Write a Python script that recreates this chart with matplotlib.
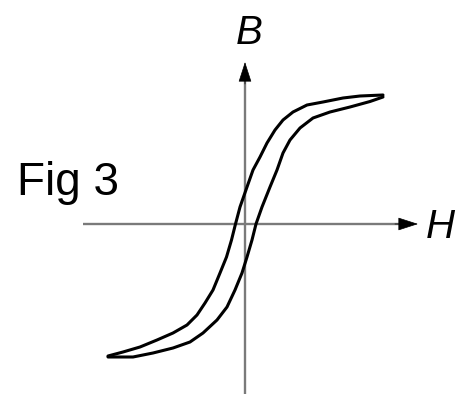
import matplotlib
matplotlib.use("Agg")
import matplotlib.pyplot as plt

# Hysteresis loop data (H, B) in arbitrary units, origin at axes crossing
H_down = [1.38, 1.15, 0.98, 0.78, 0.62, 0.48, 0.38, 0.30, 0.22, 0.15, 0.08, 0.02,
          -0.05, -0.095, -0.135, -0.185, -0.25, -0.32, -0.40, -0.48, -0.58, -0.72,
          -0.88, -1.05, -1.22, -1.37]
B_down = [1.29, 1.28, 1.26, 1.22, 1.19, 1.12, 1.04, 0.94, 0.81, 0.67, 0.54, 0.37,
          0.17, 0.00, -0.16, -0.33, -0.49, -0.66, -0.79, -0.91, -1.01, -1.09,
          -1.16, -1.23, -1.28, -1.32]
H_up = [-1.37, -1.12, -0.92, -0.72, -0.55, -0.42, -0.28, -0.18, -0.10, -0.03, 0.02,
        0.07, 0.11, 0.17, 0.25, 0.32, 0.38, 0.45, 0.55, 0.68, 0.85, 1.05, 1.25, 1.38]
B_up = [-1.33, -1.33, -1.29, -1.24, -1.18, -1.09, -0.96, -0.83, -0.66, -0.49, -0.33,
        -0.16, 0.00, 0.17, 0.37, 0.54, 0.71, 0.84, 0.96, 1.06, 1.12, 1.17, 1.225, 1.27]

x_axis = [-1.62, 1.60]
y_axis = [-1.72, 1.50]
title_text = "Fig 3"
x_label = "H"
y_label = "B"

fig = plt.figure(figsize=(4.64, 3.94), dpi=100)
ax = fig.add_axes([0, 0, 1, 1])
ax.set_xlim(-2.45, 2.19)
ax.set_ylim(-1.70, 2.24)
ax.axis("off")

axis_color = "#7a7a7a"
ax.plot(x_axis, [0, 0], color=axis_color, lw=1.7, solid_capstyle="butt")
ax.plot([0, 0], y_axis, color=axis_color, lw=1.7, solid_capstyle="butt")

arrow = dict(arrowstyle="-|>,head_length=1.3,head_width=0.42", color="black", lw=0.5,
             shrinkA=0, shrinkB=0)
ax.annotate("", xy=(1.73, 0), xytext=(1.50, 0), arrowprops=arrow)
ax.annotate("", xy=(0, 1.62), xytext=(0, 1.40), arrowprops=arrow)

ax.plot(H_down, B_down, color="black", lw=2.2, solid_joinstyle="round", solid_capstyle="round")
ax.plot(H_up, B_up, color="black", lw=2.2, solid_joinstyle="round", solid_capstyle="round")

ax.text(-2.285, 0.29, title_text, fontsize=33, family="Liberation Sans",
        ha="left", va="baseline", color="black")
ax.text(0.04, 1.80, y_label, fontsize=29, family="Liberation Sans", style="italic",
        ha="center", va="baseline", color="black")
ax.text(1.81, -0.14, x_label, fontsize=29, family="Liberation Sans", style="italic",
        ha="left", va="baseline", color="black")

fig.savefig("out.png", dpi=100)
